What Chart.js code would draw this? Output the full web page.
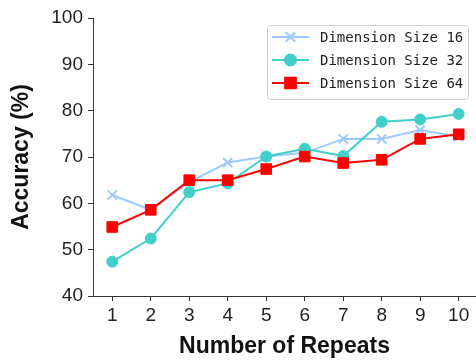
<!DOCTYPE html>
<html>
<head>
<meta charset="utf-8">
<script src="https://cdn.jsdelivr.net/npm/chart.js@4/dist/chart.umd.min.js"></script>
<style>
    html, body { margin: 0; padding: 0; background: #fff; }
    #wrap { width: 476px; height: 360px; }
</style>
</head>
<body>
<div id="wrap"><canvas id="accChart" width="476" height="360"></canvas></div>
<script>
// values
const repeats = [1, 2, 3, 4, 5, 6, 7, 8, 9, 10];
const dim16 = [61.8, 58.6, 64.6, 68.8, 70.1, 70.9, 73.9, 73.9, 75.8, 74.4];
const dim32 = [47.4, 52.4, 62.4, 64.3, 70.1, 71.8, 70.2, 77.6, 78.1, 79.3];
const dim64 = [54.9, 58.6, 65.0, 65.0, 67.4, 70.1, 68.7, 69.4, 73.9, 74.9];
const seriesNames = ['Dimension Size 16', 'Dimension Size 32', 'Dimension Size 64'];
const yTicks = [40, 50, 60, 70, 80, 90, 100];

const colors = ['#9cc9ff', '#40cfca', '#ff0000'];
const markers = ['crossRot', 'circle', 'rect'];
const radii = [6.5, 5.5, 7.5];

function toPoints(values) {
    return repeats.map((r, i) => ({ x: r, y: values[i] }));
}

const datasets = [dim16, dim32, dim64].map((vals, i) => ({
    label: seriesNames[i],
    data: toPoints(vals),
    borderColor: colors[i],
    backgroundColor: colors[i],
    pointBorderColor: colors[i],
    pointBackgroundColor: colors[i],
    borderWidth: 2,
    pointStyle: markers[i],
    pointRadius: radii[i],
    pointBorderWidth: i === 0 ? 2 : 1,
    pointHoverRadius: radii[i],
    order: 3 - i,
    fill: false,
    tension: 0
}));

// matplotlib style legend box in the upper right
const boxLegend = {
    id: 'boxLegend',
    afterDraw(chart) {
        const ctx = chart.ctx;
        const x0 = 267.5, y0 = 25.5, w = 201, h = 74;
        ctx.save();
        ctx.fillStyle = 'rgba(255,255,255,0.85)';
        ctx.strokeStyle = '#d0d0d0';
        ctx.lineWidth = 1;
        ctx.beginPath();
        ctx.roundRect(x0, y0, w, h, 3);
        ctx.fill();
        ctx.stroke();
        ctx.font = '14px "DejaVu Sans Mono"';
        ctx.textBaseline = 'middle';
        chart.data.datasets.forEach((ds, i) => {
            const cy = 37 + i * 23;
            ctx.strokeStyle = ds.borderColor;
            ctx.lineWidth = 2;
            ctx.beginPath();
            ctx.moveTo(272, cy);
            ctx.lineTo(309, cy);
            ctx.stroke();
            Chart.helpers.drawPoint(ctx, {
                pointStyle: ds.pointStyle,
                radius: ds.pointRadius,
                borderWidth: ds.pointBorderWidth,
                rotation: 0
            }, 290.5, cy);
            ctx.fillStyle = ds.pointBackgroundColor;
            ctx.strokeStyle = ds.pointBorderColor;
            ctx.lineWidth = ds.pointBorderWidth;
            ctx.fill();
            ctx.stroke();
            ctx.fillStyle = '#222';
            ctx.fillText(ds.label, 320, cy + 1);
        });
        ctx.restore();
    }
};

const ctx = document.getElementById('accChart').getContext('2d');
new Chart(ctx, {
    type: 'line',
    data: { datasets: datasets },
    options: {
        responsive: false,
        animation: false,
        clip: false,
        layout: { autoPadding: false, padding: { top: 18, right: 0, left: 0, bottom: 0 } },
        plugins: {
            legend: { display: false },
            tooltip: { enabled: false }
        },
        scales: {
            x: {
                type: 'linear',
                min: 0.5,
                max: 10.45,
                afterBuildTicks: (scale) => {
                    scale.ticks = repeats.map(v => ({ value: v }));
                },
                afterFit: (scale) => {
                    scale.height = 64;
                    scale.paddingLeft = 0;
                    scale.paddingRight = 0;
                },
                grid: {
                    display: true,
                    drawOnChartArea: false,
                    drawTicks: true,
                    tickLength: 5,
                    tickColor: '#333',
                    tickWidth: 1
                },
                border: { display: true, color: '#333', width: 1 },
                ticks: {
                    color: '#222',
                    padding: 3,
                    font: { family: '"Liberation Sans", Arial', size: 19 },
                    callback: (v) => v
                },
                title: {
                    display: true,
                    text: 'Number of Repeats',
                    color: '#111',
                    font: { family: '"Liberation Sans", Arial', size: 23, weight: 'bold', lineHeight: 1.2 },
                    padding: { top: 0, bottom: 0 }
                }
            },
            y: {
                min: 40,
                max: 100,
                afterBuildTicks: (scale) => {
                    scale.ticks = yTicks.map(v => ({ value: v }));
                },
                afterFit: (scale) => {
                    scale.width = 93;
                    scale.paddingTop = 0;
                    scale.paddingBottom = 0;
                },
                grid: {
                    display: true,
                    drawOnChartArea: false,
                    drawTicks: true,
                    tickLength: 5,
                    tickColor: '#333',
                    tickWidth: 1
                },
                border: { display: true, color: '#333', width: 1 },
                ticks: {
                    color: '#222',
                    padding: 5,
                    font: { family: '"Liberation Sans", Arial', size: 19 }
                },
                title: {
                    display: true,
                    text: 'Accuracy (%)',
                    color: '#111',
                    font: { family: '"Liberation Sans", Arial', size: 23, weight: 'bold', lineHeight: 1.2 },
                    padding: { top: 8, bottom: 0 }
                }
            }
        }
    },
    plugins: [boxLegend]
});
</script>
</body>
</html>
